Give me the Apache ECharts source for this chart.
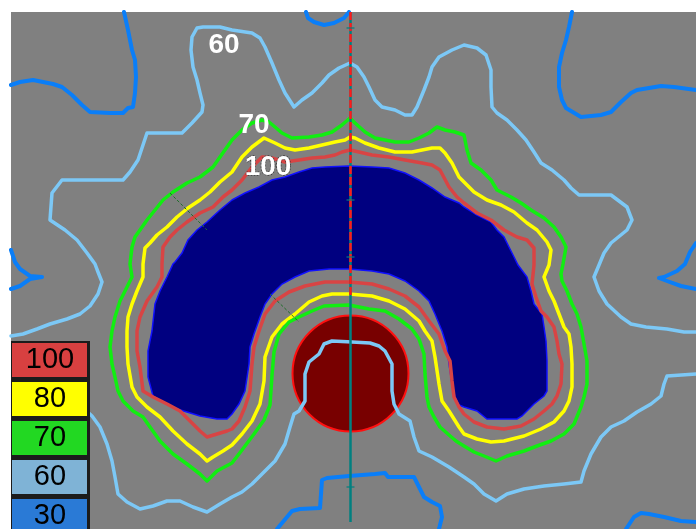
<!DOCTYPE html>
<html>
<head>
<meta charset="utf-8">
<script src="https://cdn.jsdelivr.net/npm/echarts@6/dist/echarts.min.js"></script>
<style>
  html, body { margin: 0; padding: 0; background: #ffffff; }
  #chart { width: 696px; height: 529px; }
</style>
</head>
<body>
<div id="chart"></div>
<script>
// Isodose levels (percent) shown in the key, top to bottom
const levels = ['100', '80', '70', '60', '30'];

// Planning target volume (filled region), grid coordinates
const targetVolume = [
  [232,200],[245,193],[259,187],[272,180],[285,177],[299,172],[312,168],[325,167],[349,166],
  [372,167],[389,168],[405,173],[419,180],[432,188],[445,197],[459,203],[464,207],[477,215],
  [491,222],[497,230],[504,237],[509,247],[514,257],[518,265],[527,277],[531,291],[534,304],
  [542,314],[544,327],[546,341],[547,361],[547,391],[544,396],[534,404],[522,416],[517,419],
  [504,419],[487,419],[477,411],[464,407],[459,405],[455,397],[452,384],[449,364],[447,347],
  [442,331],[435,314],[429,301],[419,291],[405,281],[389,274],[372,271],[349,269],[329,269],
  [309,271],[295,277],[282,284],[272,294],[265,304],[260,317],[254,334],[250,347],[249,364],
  [245,391],[239,404],[232,414],[227,419],[217,419],[200,416],[187,412],[177,409],[163,402],
  [153,396],[148,377],[148,351],[152,331],[155,304],[160,291],[167,277],[173,264],[175,262],
  [182,253],[188,240],[197,230],[207,222],[220,210]
];

// Organ at risk: centre x, centre y, radius
const organAtRisk = [[350.5, 373.5, 58]];

// 100 % isodose
const iso100 = [
  [350,150],[359,152],[372,155],[389,157],[405,160],[422,163],[432,165],[440,170],[449,187],
  [457,197],[464,203],[477,213],[491,220],[504,230],[517,237],[527,240],[534,248],[534,265],
  [532,284],[536,297],[541,311],[547,317],[554,327],[557,341],[559,354],[562,364],[561,384],
  [557,396],[552,404],[544,411],[534,419],[521,426],[504,429],[487,427],[474,422],[464,414],
  [459,407],[454,397],[452,381],[450,361],[445,351],[439,334],[429,321],[419,307],[405,296],
  [389,289],[372,284],[349,282],[325,282],[305,286],[289,292],[275,301],[265,314],[259,331],
  [254,347],[252,364],[250,391],[245,407],[239,421],[232,429],[227,431],[217,434],[207,437],
  [200,431],[190,421],[180,411],[167,404],[153,397],[143,391],[140,367],[137,351],[137,331],
  [140,317],[147,301],[157,287],[162,277],[162,264],[163,247],[170,237],[177,230],[187,222],
  [200,213],[213,207],[223,197],[232,190],[242,180],[252,167],[262,157],[272,158],[285,162],
  [299,160],[312,158],[325,157],[335,155],[342,152],[350,150]
];

// 80 % isodose
const iso80 = [
  [350,137],[355,138],[365,143],[379,148],[395,152],[412,152],[432,148],[440,148],[445,153],
  [452,163],[459,177],[464,182],[474,192],[487,200],[501,205],[514,212],[527,223],[537,230],
  [547,242],[551,250],[549,265],[544,277],[549,291],[554,301],[559,314],[564,327],[569,334],
  [571,347],[572,364],[572,387],[569,401],[564,411],[554,422],[541,429],[524,436],[504,441],
  [491,442],[477,439],[464,434],[459,427],[449,411],[442,401],[439,384],[435,357],[432,341],
  [425,331],[419,321],[405,309],[389,301],[372,296],[349,294],[332,294],[322,296],[309,302],
  [295,314],[282,324],[272,337],[265,357],[264,381],[260,404],[252,421],[242,434],[232,445],
  [223,451],[213,457],[207,461],[200,454],[187,444],[173,431],[160,417],[147,407],[137,397],
  [132,387],[128,364],[127,347],[127,331],[128,317],[132,304],[137,291],[143,277],[143,264],
  [145,248],[150,243],[157,235],[167,227],[177,217],[188,208],[200,200],[210,192],[220,182],
  [232,172],[242,157],[252,147],[264,138],[275,143],[285,148],[295,150],[309,148],[322,145],
  [335,142],[345,140],[350,137]
];

// 70 % isodose
const iso70 = [
  [350,118],[355,123],[365,132],[375,138],[385,140],[395,142],[409,142],[419,138],[429,133],
  [437,127],[445,130],[455,132],[464,135],[467,150],[471,163],[481,170],[491,180],[497,190],
  [511,197],[521,203],[531,210],[544,218],[554,227],[561,237],[566,247],[563,264],[561,274],
  [562,281],[567,291],[572,304],[577,314],[581,327],[584,344],[587,361],[587,384],[584,397],
  [581,407],[574,424],[564,434],[551,441],[537,446],[524,451],[507,456],[496,461],[484,456],
  [474,452],[464,446],[456,441],[449,435],[440,427],[434,417],[429,407],[427,397],[425,374],
  [424,354],[419,339],[412,329],[399,319],[385,311],[369,309],[349,305],[324,306],[312,311],
  [299,317],[289,322],[279,334],[274,352],[272,375],[270,405],[264,420],[254,434],[242,450],
  [232,463],[217,471],[207,481],[200,474],[187,464],[173,454],[160,441],[150,427],[143,417],
  [133,411],[123,401],[118,391],[115,377],[112,364],[110,347],[112,331],[115,317],[120,301],
  [127,287],[132,277],[130,264],[132,247],[135,237],[140,230],[147,220],[155,210],[163,200],
  [173,192],[187,183],[200,177],[213,167],[220,157],[227,147],[232,140],[242,130],[252,123],
  [262,120],[269,122],[275,127],[282,133],[292,138],[309,137],[322,135],[332,132],[342,125],
  [350,118]
];

// 60 % isodose, outer branch
const iso60Outer = [
  [11,336],[23,334],[37,329],[50,324],[67,319],[80,314],[90,306],[98,294],[102,282],[98,272],
  [95,264],[87,253],[77,240],[65,230],[50,220],[52,193],[62,180],[107,180],[123,180],[130,172],
  [138,160],[147,133],[182,133],[192,123],[202,112],[203,105],[200,93],[197,80],[193,67],
  [191,50],[192,37],[197,28],[203,27],[220,27],[232,30],[252,33],[260,38],[265,47],[272,63],
  [279,80],[285,93],[294,107],[302,100],[312,93],[322,83],[329,75],[339,68],[350,63],[357,67],
  [364,77],[369,87],[375,100],[382,107],[395,110],[405,115],[412,115],[417,107],[424,90],
  [429,77],[432,67],[439,57],[452,50],[464,45],[477,48],[486,55],[491,70],[491,87],[492,107],
  [497,113],[507,120],[517,130],[526,140],[534,152],[541,163],[552,170],[564,180],[571,188],
  [579,195],[591,195],[611,195],[627,207],[632,220],[627,230],[611,243],[604,253],[599,265],
  [594,277],[599,291],[607,304],[621,317],[631,324],[646,327],[667,329],[684,332],[696,332]
];

// 60 % isodose, inner branch around the organ at risk
const iso60Inner = [
  [80,405],[92,416],[100,427],[107,444],[112,461],[115,477],[118,494],[127,502],[140,509],
  [153,506],[167,501],[180,501],[193,507],[207,512],[220,504],[232,497],[242,492],[252,484],
  [265,471],[275,461],[285,444],[290,427],[294,414],[299,411],[305,401],[305,374],[309,362],
  [319,354],[324,344],[332,341],[352,342],[370,343],[379,346],[385,351],[392,364],[392,391],
  [394,404],[399,414],[410,421],[414,437],[419,451],[432,457],[449,467],[464,477],[474,484],
  [484,494],[496,501],[507,494],[524,489],[544,486],[564,484],[581,482],[584,471],[591,454],
  [601,437],[611,427],[624,421],[637,412],[651,404],[661,396],[664,384],[667,376],[696,374]
];

// 30 % isodose branches
const iso30TopLeft = [
  [124,12],[128,30],[132,50],[135,60],[136,77],[135,93],[133,107],[128,108],[123,113],[110,113],
  [90,112],[82,105],[72,95],[62,87],[53,84],[33,80],[20,82],[11,85]
];
const iso30TopMid = [[306,12],[308,18],[314,22],[324,25],[334,23],[344,18],[349,12]];
const iso30TopRight = [
  [572,12],[569,27],[566,40],[562,53],[559,67],[559,87],[562,100],[566,108],[581,117],[601,115],
  [611,112],[621,102],[631,93],[637,90],[661,86],[674,87],[696,90]
];
const iso30Right = [[696,243],[690,252],[685,264],[677,271],[664,277],[659,278],[667,281],[681,286],[696,289]];
const iso30Left = [[11,250],[15,262],[20,269],[30,276],[42,277],[30,279],[20,286],[11,289]];
const iso30Bottom = [
  [277,529],[292,511],[300,509],[320,508],[322,480],[327,478],[349,476],[375,474],[385,473],
  [388,477],[414,477],[419,487],[424,497],[432,502],[440,506],[442,517],[439,529]
];
const iso30BottomRight = [[626,529],[634,517],[641,513],[649,514],[664,517],[681,521],[696,522]];

// Beam central axis and its marks
const centralAxis = [[350.5,12],[350.5,522]];
const centralAxisUpper = [[350.5,12],[350.5,298]];
const axisMarks = [[350.5,28],[350.5,200],[350.5,257],[350.5,487]];

// Oblique field edges
const fieldEdgeA = [[170,193],[207,230]];
const fieldEdgeB = [[270,294],[299,322]];

// Contour labels: x, y, level text
const contourLabels = [[224,45,'60'],[254,125,'70'],[268,167,'100']];

// ---- styling ----
const lineColors = { '100': '#d84444', '80': '#ffff00', '70': '#11ee11', '60': '#7cc8f6', '30': '#0a7ef8' };
const keyColors = ['#d84040', '#ffff00', '#22d822', '#7fb3d6', '#2a7ad6'];
const FONT = '"Liberation Sans", Arial, sans-serif';

function contourSeries(data, level, width) {
  return {
    type: 'line', data: data, symbol: 'none', silent: true, clip: true,
    lineStyle: { color: lineColors[level], width: width, join: 'round', cap: 'round' },
    z: 3
  };
}

const series = [
  {
    type: 'custom', coordinateSystem: 'cartesian2d', data: targetVolume, silent: true, z: 1,
    encode: { x: 0, y: 1 },
    renderItem: function (params, api) {
      if (params.dataIndex !== 0) return null;
      return {
        type: 'polygon',
        shape: { points: targetVolume.map(function (p) { return api.coord(p); }) },
        style: { fill: '#000080', stroke: '#1010ff', lineWidth: 1.5 }
      };
    }
  },
  {
    type: 'custom', coordinateSystem: 'cartesian2d', data: organAtRisk, silent: true, z: 2,
    encode: { x: 0, y: 1 },
    renderItem: function (params, api) {
      const c = api.coord([api.value(0), api.value(1)]);
      const r = api.size([api.value(2), api.value(2)]);
      return {
        type: 'ellipse',
        shape: { cx: c[0], cy: c[1], rx: r[0], ry: r[1] },
        style: { fill: '#780000', stroke: '#ff1010', lineWidth: 2 }
      };
    }
  },
  contourSeries(iso100, '100', 3.5),
  contourSeries(iso80, '80', 3.5),
  contourSeries(iso70, '70', 3.5),
  contourSeries(iso60Outer, '60', 3.5),
  contourSeries(iso60Inner, '60', 3.5),
  contourSeries(iso30TopLeft, '30', 4),
  contourSeries(iso30TopMid, '30', 4),
  contourSeries(iso30TopRight, '30', 4),
  contourSeries(iso30Right, '30', 4),
  contourSeries(iso30Left, '30', 4),
  contourSeries(iso30Bottom, '30', 4),
  contourSeries(iso30BottomRight, '30', 4),
  {
    type: 'line', data: fieldEdgeA, symbol: 'none', silent: true, z: 4,
    lineStyle: { color: '#1f6e2a', width: 1, type: [3, 2] }
  },
  {
    type: 'line', data: fieldEdgeB, symbol: 'none', silent: true, z: 4,
    lineStyle: { color: '#1f6e2a', width: 1, type: [3, 2] }
  },
  {
    type: 'line', data: centralAxis, symbol: 'none', silent: true, z: 5,
    lineStyle: { color: '#008080', width: 2.5 }
  },
  {
    type: 'line', data: centralAxisUpper, symbol: 'none', silent: true, z: 6,
    lineStyle: { color: '#ff1a1a', width: 2.5, type: [8, 3] }
  },
  {
    type: 'scatter', data: axisMarks, symbol: 'rect', symbolSize: [8, 1.5], silent: true, z: 6,
    itemStyle: { color: '#008080' }
  },
  {
    type: 'scatter', silent: true, z: 8, symbolSize: 1,
    itemStyle: { color: 'rgba(0,0,0,0)' },
    data: contourLabels.map(function (d) {
      const item = { value: d };
      if (d[2] === '100') {
        item.label = { textBorderColor: '#3a3a3a', textBorderWidth: 1.5, textBorderType: 'dotted' };
      }
      return item;
    }),
    label: {
      show: true, position: 'inside', opacity: 1,
      formatter: function (p) { return p.value[2]; },
      color: '#ffffff', fontSize: 28, fontWeight: 'bold', fontFamily: FONT
    }
  }
];

// Key in the lower-left corner
const keyGraphics = [
  { type: 'rect', left: 11, top: 341, shape: { width: 79, height: 190 }, style: { fill: '#1c1c1c' }, z: 100 }
];
levels.forEach(function (lv, i) {
  const top = 343 + i * 39;
  keyGraphics.push({
    type: 'rect', left: 12, top: top, shape: { width: 75, height: 34 },
    style: { fill: keyColors[i] }, z: 101
  });
  keyGraphics.push({
    type: 'text', x: 50, y: top + 17, z: 102,
    style: {
      text: lv, fill: '#000000', font: '29px ' + FONT,
      align: 'center', verticalAlign: 'middle'
    }
  });
});

const chart = echarts.init(document.getElementById('chart'), null, { renderer: 'canvas' });
chart.setOption({
  animation: false,
  backgroundColor: '#ffffff',
  grid: { left: 11, top: 12, right: 0, bottom: 0, show: true, backgroundColor: '#808080', borderWidth: 0 },
  xAxis: { type: 'value', min: 11, max: 696, show: false },
  yAxis: { type: 'value', min: 12, max: 529, inverse: true, show: false },
  tooltip: { show: false },
  series: series,
  graphic: keyGraphics
});
</script>
</body>
</html>
